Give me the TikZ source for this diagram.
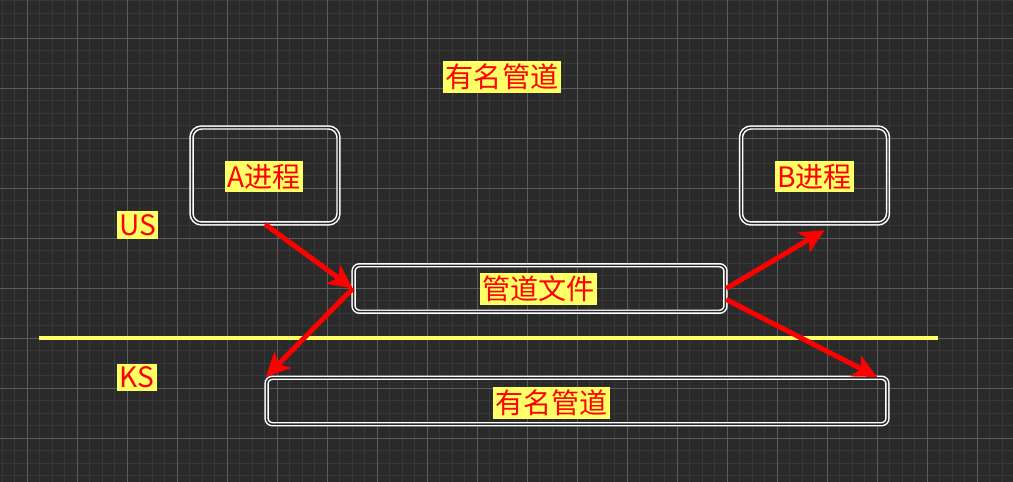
\documentclass[tikz,border=0pt]{standalone}
\usepackage{fontspec}
\newfontfamily\cjk{Noto Sans CJK SC}
\usetikzlibrary{arrows.meta,calc}
\definecolor{BoardBg}{RGB}{42,42,42}
\definecolor{GridMinor}{RGB}{56,56,56}
\definecolor{GridMajor}{RGB}{92,92,92}
\definecolor{HiYellow}{RGB}{255,255,102}
\definecolor{PipeRed}{RGB}{255,0,0}
\tikzset{
  minorline/.style={GridMinor, line width=0.02cm},
  majorline/.style={GridMajor, line width=0.02cm},
  procbox/.style={draw=white, line width=0.85pt, double=BoardBg, double distance=0.85pt,
    rounded corners=0.2cm, minimum width=2.94cm, minimum height=1.92cm, inner sep=0pt},
  filebox/.style={draw=white, line width=0.85pt, double=BoardBg, double distance=0.85pt,
    rounded corners=0.12cm, minimum height=0.93cm, inner sep=0pt},
  lab/.style={fill=HiYellow, text=PipeRed, font=\cjk\fontsize{16}{18}\selectfont,
    inner xsep=0.05cm, inner ysep=0.06cm},
  flow/.style={-{Stealth[length=0.48cm, width=0.46cm, inset=0.12cm]}, line width=0.1cm, PipeRed},
  kline/.style={line width=0.09cm, HiYellow},
}

\begin{document}
\begin{tikzpicture}[x=0.02cm, y=-0.02cm]
  % board and grid
  \fill[BoardBg] (0,0) rectangle (1013,482);
  \useasboundingbox (0,0) rectangle (1013,482);
  \foreach \gx in {2.3,14.8,...,1013} \draw[minorline] (\gx,0) -- (\gx,482);
  \foreach \gy in {0.8,13.3,...,482} \draw[minorline] (0,\gy) -- (1013,\gy);
  \foreach \gx in {27.3,77.3,...,1013} \draw[majorline] (\gx,0) -- (\gx,482);
  \foreach \gy in {38.3,88.3,...,482} \draw[majorline] (0,\gy) -- (1013,\gy);

  % user / kernel split
  \coordinate (splitL) at (39,338);
  \coordinate (splitR) at (938,338);
  \draw[kline] (splitL) -- (splitR);

  % boxes
  \node[procbox] (A) at (265,175.5) {};
  \node[procbox] (B) at (814.5,175.5) {};
  \node[filebox, minimum width=7.44cm] (pipe) at (539.5,288.5) {};
  \node[filebox, minimum width=12.42cm] (named) at (577,401) {};

  % labels
  \node[lab] (title) at (502,77) {有名管道};
  \node[lab] (Alab) at (264,176.5) {A进程};
  \node[lab] (Blab) at (814.5,176.5) {B进程};
  \node[lab] (US) at (137.5,225) {US};
  \node[lab] (KS) at (137,377.5) {KS};
  \node[lab] (pipelab) at (538.5,289) {管道文件};
  \node[lab] (namedlab) at (551.5,403) {有名管道};

  % data flow
  \draw[flow] (A.south) -- (pipe.west);
  \draw[flow] (pipe.west) -- (named.north west);
  \draw[flow] (pipe.east) -- ($(B.south)+(10,6)$);
  \draw[flow] ($(pipe.east)+(0,11)$) -- ($(named.north east)+(-11,0)$);
\end{tikzpicture}
\end{document}
